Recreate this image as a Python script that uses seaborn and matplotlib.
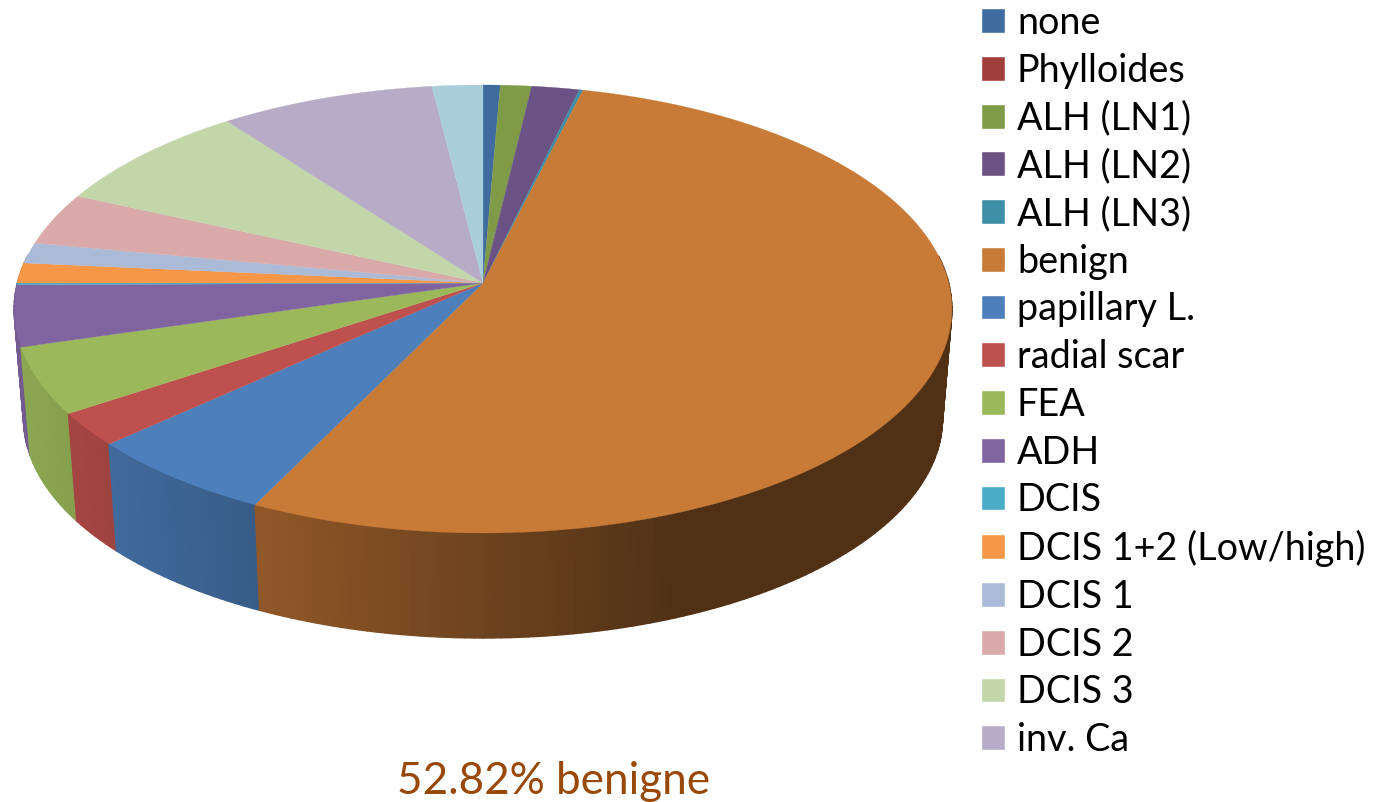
import numpy as np
import pandas as pd
import matplotlib
matplotlib.use('Agg')
import matplotlib.pyplot as plt
from matplotlib.patches import Patch
from matplotlib.collections import PolyCollection
import seaborn as sns

# last slice has no entry in the legend of the original
categories = ['none', 'Phylloides', 'ALH (LN1)', 'ALH (LN2)', 'ALH (LN3)', 'benign', 'papillary L.',
              'radial scar', 'FEA', 'ADH', 'DCIS', 'DCIS 1+2 (Low/high)', 'DCIS 1', 'DCIS 2', 'DCIS 3',
              'inv. Ca', '']
shares = [0.66, 0.0, 1.2, 1.84, 0.14, 53.4, 6.05, 2.4, 4.8, 4.4, 0.14, 1.45, 1.5, 3.8, 8.0, 8.3, 1.95]
colors = ['#3f6b9e', '#a03e3c', '#809b48', '#6b5284', '#3e8ea5', '#c87a37', '#4d7fbb', '#be504d',
          '#9bb95a', '#8064a0', '#4bacc6', '#f79646', '#aabad7', '#d9aaa9', '#c3d6aa', '#b6acc7', '#aacddc']
title_text = '52.82% benigne'

# projection of the disc, in picture pixels
CX, CY_TOP, CY_BOTTOM = 483, 283, 393
RX, RY, PERSP, BOTTOM_SCALE = 465.7, 221, 0.116, 0.98


def project(theta, cy, scale=1.0):
    # theta runs clockwise from twelve o'clock
    x = np.sin(theta)
    y = np.cos(theta)
    w = 1 + PERSP * y
    return CX + scale * RX * x / w, cy - scale * RY * y / w


def wall_shade(px):
    # front wall gets darker towards the right, flat after x=680
    return np.interp(px, [24, 680], [0.9, 0.40])


def draw_pie(ax, df):
    walls, wall_cols, depth = [], [], []
    for _, row in df.iterrows():
        n = max(int((row['end'] - row['start']) * 180 / np.pi), 2)
        t = np.linspace(row['start'], row['end'], n + 1)
        x0, y0 = project(t, CY_TOP)
        x1, y1 = project(t, CY_BOTTOM, BOTTOM_SCALE)
        base = np.array(matplotlib.colors.to_rgb(row['color']))
        for i in range(n):
            # back of the rim stays hidden, skip it so no edge peeks out
            if np.cos(t[i]) > 0.12 and np.cos(t[i + 1]) > 0.12:
                continue
            walls.append([(x0[i], y0[i]), (x0[i + 1], y0[i + 1]), (x1[i + 1], y1[i + 1]), (x1[i], y1[i])])
            wall_cols.append(base * wall_shade(0.5 * (x0[i] + x0[i + 1])))
            depth.append(y0[i] + y0[i + 1])

    # far side first so the nearer walls paint over it
    order = np.argsort(depth)
    pc = PolyCollection([walls[i] for i in order], facecolors=[wall_cols[i] for i in order],
                        edgecolors=[wall_cols[i] for i in order], linewidths=1.0, zorder=2)
    ax.add_collection(pc)

    for _, row in df.iterrows():
        if row['share'] <= 0:
            continue
        t = np.linspace(row['start'], row['end'], 200)
        x, y = project(t, CY_TOP)
        ax.fill(np.r_[CX, x], np.r_[CY_TOP, y], color=row['color'], lw=0.2, zorder=3)


if __name__ == '__main__':
    sns.set_theme(style='white')
    plt.rcParams['font.family'] = ['Lato', 'DejaVu Sans']

    df = pd.DataFrame({'category': categories, 'share': shares, 'color': sns.color_palette(colors)})
    angles = 2 * np.pi * df['share'].cumsum() / df['share'].sum()
    df['end'] = angles
    df['start'] = angles.shift(1, fill_value=0.0)

    fig, ax = plt.subplots(figsize=(13.79, 8.02), dpi=100)
    fig.subplots_adjust(left=0, right=1, top=1, bottom=0)
    ax.set_xlim(0, 1379)
    ax.set_ylim(802, 0)
    ax.axis('off')

    draw_pie(ax, df)

    handles = [Patch(facecolor=row['color'], label=row['category']) for _, row in df.iterrows() if row['category']]
    fs = 27.2
    fs_px = fs * 100 / 72
    ax.legend(handles=handles, loc='upper left', bbox_to_anchor=(981, 5), bbox_transform=ax.transData,
              frameon=False, fontsize=fs, borderaxespad=0, borderpad=0,
              handlelength=24 / fs_px, handleheight=24 / fs_px, handletextpad=12 / fs_px,
              labelspacing=(49.5 - fs_px) / fs_px, labelcolor='black')

    ax.text(554, 782, title_text, color='#984807', fontsize=31.7, ha='center', va='center')

    plt.savefig('out.png', dpi=100)
